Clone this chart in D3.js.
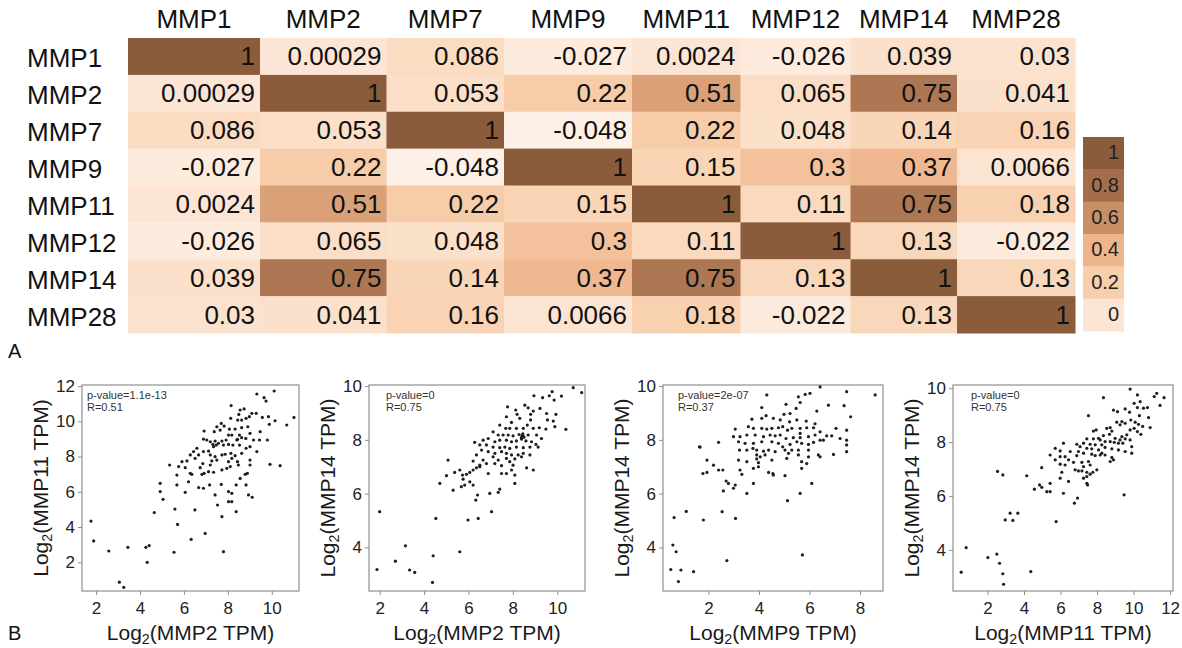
<!DOCTYPE html>
<html>
<head>
<meta charset="utf-8">
<script src="https://cdn.jsdelivr.net/npm/d3@7"></script>
<style>
body { margin: 0; background: #fff; }
svg { font-family: "Liberation Sans", Arial, sans-serif; }
</style>
</head>
<body>
<svg width="1182" height="648"></svg>
<script>
// ---- data ----
var genes = ["MMP1", "MMP2", "MMP7", "MMP9", "MMP11", "MMP12", "MMP14", "MMP28"];
var corr = [
  [1, 0.00029, 0.086, -0.027, 0.0024, -0.026, 0.039, 0.03],
  [0.00029, 1, 0.053, 0.22, 0.51, 0.065, 0.75, 0.041],
  [0.086, 0.053, 1, -0.048, 0.22, 0.048, 0.14, 0.16],
  [-0.027, 0.22, -0.048, 1, 0.15, 0.3, 0.37, 0.0066],
  [0.0024, 0.51, 0.22, 0.15, 1, 0.11, 0.75, 0.18],
  [-0.026, 0.065, 0.048, 0.3, 0.11, 1, 0.13, -0.022],
  [0.039, 0.75, 0.14, 0.37, 0.75, 0.13, 1, 0.13],
  [0.03, 0.041, 0.16, 0.0066, 0.18, -0.022, 0.13, 1]
];
var legendTicks = [1, 0.8, 0.6, 0.4, 0.2, 0];

var panelX = ["MMP2", "MMP2", "MMP9", "MMP11"];
var panelY = ["MMP11", "MMP14", "MMP14", "MMP14"];
var pValues = ["1.1e-13", "0", "2e-07", "0"];
var rValues = ["0.51", "0.75", "0.37", "0.75"];
var xTicks = [[2, 4, 6, 8, 10], [2, 4, 6, 8, 10], [2, 4, 6, 8], [2, 4, 6, 8, 10, 12]];
var yTicks = [[2, 4, 6, 8, 10, 12], [4, 6, 8, 10], [4, 6, 8, 10], [4, 6, 8, 10]];

var mmp2_mmp11 = [[1.77,4.34],[1.89,3.21],[2.58,2.64],[3.45,2.85],[3.06,0.87],[3.26,0.58],[4.27,2.85],[4.42,2.95],[4.33,2.0],[4.65,4.82],[5.59,5.02],[5.55,2.57],[5.71,4.15],[6.33,3.3],[6.5,4.97],[6.97,3.64],[7.53,5.25],[7.73,4.59],[7.8,2.6],[8.38,4.87],[5.05,5.57],[9.11,5.69],
  [9.32,11.55],[9.65,11.34],[9.74,11.15],[10.11,11.72],[8.15,10.89],[8.56,10.64],[8.74,10.7],[8.5,10.39],[9.09,10.45],[9.29,10.45],[8.83,10.17],[8.98,10.26],[9.57,10.22],[9.85,10.26],[11.01,10.22],[10.15,10.03],[8.13,10.17],[8.45,10.07],[8.63,10.07],[7.7,9.88],[7.83,9.73],[9.89,9.83],[10.68,9.79],[7.5,9.69],[8.63,9.64],[8.91,9.69],[8.07,9.56],[8.33,9.56],[7.65,9.5],[7.38,9.41],[6.92,9.45],[9.47,9.41],[9.01,9.32],[8.53,9.22],[8.63,9.07],[8.03,9.22],[8.18,9.22],[8.44,8.98],[7.42,8.88],[7.73,8.88],[7.92,8.94],[8.41,8.94],[8.82,9.03],[9.17,8.94],[9.44,8.94],[9.8,8.94],[6.89,8.99],[7.04,8.94],[7.2,8.84],[7.32,8.69],[7.47,8.65],[7.57,8.75],[7.8,8.65],[8.03,8.69],[8.23,8.65],[8.53,8.65],[8.83,8.47],[9.01,8.56],[7.35,8.56],[6.59,8.47],[6.44,8.28],[6.89,8.28],[7.12,8.31],[6.67,8.09],[6.29,8.09],[6.14,7.75],[6.51,7.9],[7.2,8.09],[7.42,7.99],[7.73,8.09],[7.88,8.13],[8.14,8.18],[8.33,8.05],[8.63,8.18],[9.32,8.28],[9.01,7.8],[8.18,7.9],[8.44,7.71],[8.03,7.71],[7.5,7.8],[7.2,7.52],[7.27,7.75],[6.86,7.6],[6.74,7.37],[5.91,7.71],[5.76,7.43],[5.35,7.52],[5.68,6.95],[6.06,7.37],[6.29,7.05],[6.36,6.99],[6.82,6.99],[6.92,7.05],[7.12,7.14],[7.35,7.11],[7.73,7.24],[7.95,7.33],[8.11,7.43],[8.48,7.52],[8.79,6.99],[8.89,7.05],[9.01,7.52],[8.56,6.76],[4.92,6.48],[5.68,6.39],[6.21,6.57],[6.67,6.24],[6.89,6.2],[7.17,6.39],[7.7,6.42],[8.03,6.01],[8.18,5.91],[8.18,5.44],[8.03,5.44],[6.06,5.97],[8.94,5.82],[7.42,5.82],[8.38,6.39],[8.83,6.39],[9.92,7.56],[10.38,7.48],[4.92,6.01]];

var mmp2_mmp14 = [[1.88,3.18],[2.0,5.33],[2.71,3.49],[3.16,4.06],[3.35,3.16],[3.58,3.07],[4.38,2.7],[4.41,3.69],[4.53,5.08],[5.61,3.84],[5.98,5.02],[6.33,5.76],[6.44,5.08],[7.04,5.33],[6.41,5.95],[8.42,8.15],[8.5,8.1],[8.45,8.22],[8.38,8.08],
  [10.72,9.94],[11.1,9.76],[9.77,9.79],[9.64,9.64],[8.95,9.64],[9.34,9.57],[9.86,9.48],[10.19,9.63],[8.54,9.29],[8.69,9.19],[7.76,9.23],[8.13,9.11],[8.19,8.95],[9.22,9.17],[8.92,9.07],[8.8,8.95],[9.52,8.98],[9.94,8.95],[9.56,8.74],[9.82,8.7],[10.39,8.39],[7.71,8.86],[7.94,8.65],[8.31,8.8],[8.8,8.74],[8.65,8.55],[7.41,8.55],[7.68,8.43],[7.86,8.43],[8.16,8.43],[8.47,8.43],[8.92,8.43],[9.19,8.45],[9.49,8.4],[9.89,8.49],[7.11,8.3],[7.34,8.18],[7.56,8.18],[7.79,8.18],[8.01,8.15],[8.28,8.2],[8.47,8.12],[8.69,8.18],[9.07,8.18],[9.29,8.05],[6.66,7.99],[6.89,8.05],[7.19,7.93],[7.41,7.99],[7.71,7.99],[7.94,7.93],[8.16,7.96],[8.39,8.03],[8.59,7.96],[8.84,7.93],[9.04,7.83],[6.28,7.91],[6.51,7.81],[6.81,7.81],[7.11,7.73],[7.41,7.71],[7.64,7.73],[7.86,7.68],[8.16,7.73],[8.47,7.71],[8.77,7.73],[9.14,7.73],[6.89,7.56],[6.59,7.62],[6.36,7.44],[7.19,7.5],[7.49,7.56],[7.71,7.5],[7.94,7.44],[8.24,7.44],[8.47,7.5],[8.77,7.44],[7.11,7.37],[7.34,7.25],[7.71,7.31],[8.09,7.29],[8.39,7.37],[6.21,7.21],[6.66,7.25],[6.51,7.06],[6.81,7.12],[7.19,7.12],[7.49,7.04],[7.86,7.19],[8.01,7.06],[8.62,6.96],[8.92,6.88],[5.08,7.25],[5.38,6.79],[5.61,6.88],[5.73,6.69],[5.91,6.72],[6.06,6.79],[6.21,6.88],[6.36,6.96],[6.51,7.0],[6.89,6.75],[7.49,6.75],[7.71,6.75],[7.94,6.88],[8.09,6.69],[5.01,6.67],[5.76,6.54],[6.06,6.44],[5.83,6.32],[5.31,6.13],[5.68,6.26],[6.21,6.32],[7.41,6.17],[6.96,6.01],[7.34,6.05],[8.09,6.38],[4.71,6.38]];

var mmp9_mmp14 = [[0.51,3.18],[0.59,4.09],[0.64,5.11],[0.72,3.84],[0.81,2.73],[0.91,3.16],[1.12,5.34],[1.41,3.1],[1.64,7.74],[1.8,5.02],[2.54,5.33],[2.73,3.51],[3.07,5.08],[5.13,5.74],[5.72,3.72],[7.63,8.86],[8.6,9.67],
  [4.31,9.67],[6.42,9.97],[5.56,9.6],[5.83,9.69],[6.02,9.73],[7.47,9.79],[6.75,9.29],[7.37,9.27],[4.11,9.2],[5.07,9.32],[5.47,9.17],[5.23,8.98],[4.99,8.95],[5.63,9.39],[6.29,9.07],[4.28,8.9],[3.72,8.77],[4.11,8.8],[4.57,8.8],[4.84,8.74],[5.21,8.67],[5.5,8.74],[5.87,8.7],[6.22,8.6],[5.89,8.45],[3.06,8.4],[3.58,8.49],[3.78,8.43],[4.11,8.43],[4.31,8.4],[4.51,8.43],[4.77,8.45],[4.94,8.49],[5.13,8.36],[5.3,8.43],[5.63,8.43],[6.16,8.45],[6.42,8.3],[5.63,8.24],[7.05,8.43],[7.47,8.36],[2.99,8.12],[3.25,8.12],[3.52,8.18],[3.85,8.18],[4.18,8.12],[4.44,8.18],[4.64,8.15],[4.84,8.18],[5.07,8.05],[5.36,8.08],[5.63,8.08],[5.96,8.12],[6.22,8.18],[6.42,7.99],[6.68,8.15],[6.88,8.15],[7.21,8.05],[7.47,7.99],[3.19,7.93],[3.45,7.87],[3.78,7.87],[4.11,7.93],[4.51,7.93],[4.77,7.87],[4.94,7.74],[5.23,7.83],[5.5,7.93],[5.69,7.87],[5.96,7.83],[6.16,7.91],[6.55,7.99],[7.47,7.81],[3.23,7.62],[3.52,7.62],[3.76,7.68],[3.91,7.62],[4.18,7.58],[4.38,7.62],[4.64,7.56],[5.03,7.62],[5.3,7.62],[5.56,7.62],[5.96,7.62],[6.35,7.44],[6.95,7.46],[7.47,7.56],[2.4,7.91],[1.67,7.73],[3.91,7.44],[4.05,7.37],[4.24,7.44],[5.17,7.5],[5.56,7.44],[5.96,7.37],[6.42,7.37],[3.19,7.25],[3.52,7.19],[3.91,7.29],[3.98,7.15],[4.51,7.25],[5.1,7.31],[5.69,7.19],[5.89,7.12],[1.94,7.25],[2.2,7.06],[2.4,6.88],[2.57,6.88],[3.25,6.88],[3.32,6.72],[3.78,6.94],[3.98,7.0],[4.38,6.79],[4.55,6.75],[5.03,6.67],[5.69,6.94],[1.78,6.75],[1.94,6.79],[2.7,6.47],[2.79,6.38],[3.06,6.32],[2.99,6.2],[2.59,6.1],[3.52,6.01],[3.78,6.38],[4.57,6.69],[5.63,6.01],[6.09,6.38]];

var mmp11_mmp14 = [[0.56,3.17],[0.83,4.08],[2.02,3.71],[2.51,3.84],[2.55,6.91],[2.66,3.5],[2.84,6.78],[2.84,3.11],[2.88,2.72],[2.97,5.11],[3.24,5.36],[3.39,5.09],[3.66,5.36],[4.15,6.75],[4.37,3.19],[4.57,6.25],[4.85,6.41],[4.97,6.32],[4.97,7.05],[5.25,6.16],[5.76,5.05],[6.76,5.73],[6.93,5.92],[9.48,6.04],
  [9.81,9.97],[10.21,9.75],[11.27,9.81],[11.67,9.65],[11.13,9.69],[8.35,9.65],[10.36,9.5],[10.03,9.44],[11.45,9.36],[8.9,9.19],[9.12,9.13],[9.54,9.23],[10.21,9.28],[10.54,9.26],[10.76,9.28],[7.53,8.98],[9.78,9.11],[10.32,8.98],[10.82,8.91],[9.85,8.82],[9.08,8.74],[9.36,8.76],[9.54,8.7],[9.26,8.64],[10.09,8.74],[10.27,8.66],[10.5,8.58],[10.91,8.54],[8.72,8.54],[8.81,8.41],[8.53,8.51],[7.8,8.41],[7.95,8.45],[9.81,8.45],[10.03,8.51],[10.21,8.39],[10.4,8.29],[9.63,8.27],[9.36,8.2],[9.26,8.08],[8.99,8.14],[9.54,8.12],[9.81,8.08],[9.9,7.83],[8.68,8.29],[8.35,8.24],[8.08,8.14],[7.8,8.12],[7.44,8.12],[8.17,8.08],[8.44,8.02],[8.72,8.02],[8.94,7.99],[9.17,7.96],[9.41,7.96],[7.26,7.96],[7.62,7.92],[7.9,7.9],[8.26,7.9],[6.89,7.92],[7.07,7.83],[7.44,7.77],[7.71,7.75],[8.08,7.71],[8.44,7.8],[8.81,7.75],[9.17,7.71],[9.54,7.65],[9.9,7.59],[6.16,7.96],[5.71,7.77],[5.43,7.52],[5.98,7.67],[6.53,7.65],[6.98,7.65],[7.26,7.59],[7.71,7.55],[8.17,7.52],[8.44,7.52],[8.81,7.43],[8.9,7.34],[6.89,7.5],[6.25,7.46],[5.98,7.46],[5.71,7.34],[6.44,7.34],[6.71,7.25],[7.17,7.25],[7.53,7.28],[7.9,7.5],[8.26,7.59],[7.62,7.15],[7.26,7.09],[6.25,7.15],[5.98,7.18],[7.44,6.88],[7.62,6.81],[7.77,6.88],[6.8,6.97],[6.98,6.93],[7.17,6.93],[7.99,6.97],[8.72,7.28],[7.44,6.72],[7.26,6.66],[6.07,6.88],[5.98,6.66],[6.44,6.54],[5.43,6.16],[6.16,6.1],[7.44,6.47],[7.48,6.41],[5.43,6.47]];

var points = [mmp2_mmp11, mmp2_mmp14, mmp9_mmp14, mmp11_mmp14];

// ---- layout ----
var svg = d3.select("svg");
var colWeights = [132, 126.5, 117.5, 128, 108.5, 110, 106.5, 118];
var heatLeft = 128, heatRight = 1075, heatTop = 38, heatBottom = 333;

var color = d3.scaleLinear()
  .domain([-0.05, 0, 0.2, 0.4, 0.6, 0.8, 1])
  .range(["#fdf0e7", "#fce5d4", "#f8cfac", "#eeb48b", "#c99068", "#a46e4c", "#8b5c3c"]);

var cum = [0];
colWeights.forEach(function(w) { cum.push(cum[cum.length - 1] + w); });
var xw = d3.scaleLinear().domain([0, cum[cum.length - 1]]).range([heatLeft, heatRight]);
function colX(j) { return xw(cum[j]); }
function colW(j) { return xw(cum[j + 1]) - xw(cum[j]); }

var yRow = d3.scaleBand().domain(genes).range([heatTop, heatBottom]);

var cells = [];
corr.forEach(function(row, i) {
  row.forEach(function(v, j) { cells.push({r: i, c: j, v: v}); });
});

var heat = svg.append("g");
heat.selectAll(".cell").data(cells).enter().append("rect")
  .attr("class", "cell")
  .attr("x", function(d) { return colX(d.c); })
  .attr("y", function(d) { return yRow(genes[d.r]); })
  .attr("width", function(d) { return colW(d.c) + 0.5; })
  .attr("height", yRow.bandwidth() + 0.5)
  .attr("fill", function(d) { return color(d.v); });

heat.selectAll(".val").data(cells).enter().append("text")
  .attr("class", "val")
  .attr("x", function(d) { return colX(d.c) + colW(d.c) - 5; })
  .attr("y", function(d) { return yRow(genes[d.r]) + yRow.bandwidth() / 2 + 9; })
  .attr("text-anchor", "end")
  .attr("font-size", 26)
  .attr("fill", "#111")
  .text(function(d) { return String(d.v); });

heat.selectAll(".colLab").data(genes).enter().append("text")
  .attr("class", "colLab")
  .attr("x", function(d, j) { return colX(j) + colW(j) / 2; })
  .attr("y", 28)
  .attr("text-anchor", "middle")
  .attr("font-size", 26)
  .attr("fill", "#111")
  .text(function(d) { return d; });

heat.selectAll(".rowLab").data(genes).enter().append("text")
  .attr("class", "rowLab")
  .attr("x", 27)
  .attr("y", function(d) { return yRow(d) + yRow.bandwidth() / 2 + 11; })
  .attr("font-size", 26)
  .attr("fill", "#111")
  .text(function(d) { return d; });

// legend
var legY = d3.scaleBand().domain(legendTicks).range([137, 331]);
var leg = svg.append("g");
leg.selectAll("rect").data(legendTicks).enter().append("rect")
  .attr("x", 1083).attr("width", 41)
  .attr("y", function(d) { return legY(d); })
  .attr("height", legY.bandwidth() + 0.5)
  .attr("fill", function(d) { return color(d); });
leg.selectAll("text").data(legendTicks).enter().append("text")
  .attr("x", 1119)
  .attr("y", function(d) { return legY(d) + legY.bandwidth() / 2 + 6; })
  .attr("text-anchor", "end")
  .attr("font-size", 20)
  .attr("fill", "#222")
  .text(function(d) { return d; });

svg.append("text").attr("x", 8).attr("y", 358).attr("font-size", 20).attr("fill", "#111").text("A");
svg.append("text").attr("x", 8).attr("y", 640).attr("font-size", 20).attr("fill", "#111").text("B");

// ---- scatter panels ----
var plotTop = 385, plotBottom = 591;
var panels = [
  {left: 82, right: 299, xd: [1.36, 11.24], yd: [0.37, 12.06], px: 5},
  {left: 369, right: 585, xd: [1.52, 11.25], yd: [2.38, 10.04], px: 17},
  {left: 663, right: 883, xd: [0.2, 8.91], yd: [2.38, 10.04], px: 15},
  {left: 953, right: 1173, xd: [0.11, 12.16], yd: [2.47, 10.12], px: 18}
];

function logLabel(sel, gene) {
  sel.append("tspan").text("Log");
  sel.append("tspan").attr("font-size", "0.68em").attr("dy", 4).text("2");
  sel.append("tspan").attr("dy", -4).text("(" + gene + " TPM)");
}

panels.forEach(function(p, i) {
  var x = d3.scaleLinear().domain(p.xd).range([p.left, p.right]);
  var y = d3.scaleLinear().domain(p.yd).range([plotBottom, plotTop]);
  var g = svg.append("g");

  g.append("rect")
    .attr("x", p.left).attr("y", plotTop)
    .attr("width", p.right - p.left).attr("height", plotBottom - plotTop)
    .attr("fill", "none").attr("stroke", "#8f8f8f").attr("stroke-width", 1.2);

  var ax = g.append("g").attr("transform", "translate(0," + plotBottom + ")")
    .call(d3.axisBottom(x).tickValues(xTicks[i]).tickSize(4).tickPadding(7));
  var ay = g.append("g").attr("transform", "translate(" + p.left + ",0)")
    .call(d3.axisLeft(y).tickValues(yTicks[i]).tickSize(4).tickPadding(3));
  [ax, ay].forEach(function(a) {
    a.select(".domain").remove();
    a.selectAll("line").attr("stroke", "#8f8f8f");
    a.selectAll("text").attr("font-size", 17).attr("fill", "#222")
      .attr("font-family", "Liberation Sans, Arial, sans-serif");
  });

  g.selectAll(".dot").data(points[i]).enter().append("circle")
    .attr("class", "dot")
    .attr("cx", function(d) { return x(d[0]); })
    .attr("cy", function(d) { return y(d[1]); })
    .attr("r", 1.6)
    .attr("fill", "#1e1e1e");

  g.append("text").attr("x", p.left + p.px).attr("y", plotTop + 14)
    .attr("font-size", 11).attr("fill", "#333").text("p-value=" + pValues[i]);
  g.append("text").attr("x", p.left + p.px).attr("y", plotTop + 26)
    .attr("font-size", 11).attr("fill", "#333").text("R=" + rValues[i]);

  g.append("text")
    .attr("x", (p.left + p.right) / 2).attr("y", 640)
    .attr("text-anchor", "middle").attr("font-size", 21).attr("fill", "#1a1a1a")
    .call(logLabel, panelX[i]);

  g.append("text")
    .attr("transform", "translate(" + (p.left - 34) + "," + ((plotTop + plotBottom) / 2) + ") rotate(-90)")
    .attr("text-anchor", "middle").attr("font-size", 21).attr("fill", "#1a1a1a")
    .call(logLabel, panelY[i]);
});
</script>
</body>
</html>
